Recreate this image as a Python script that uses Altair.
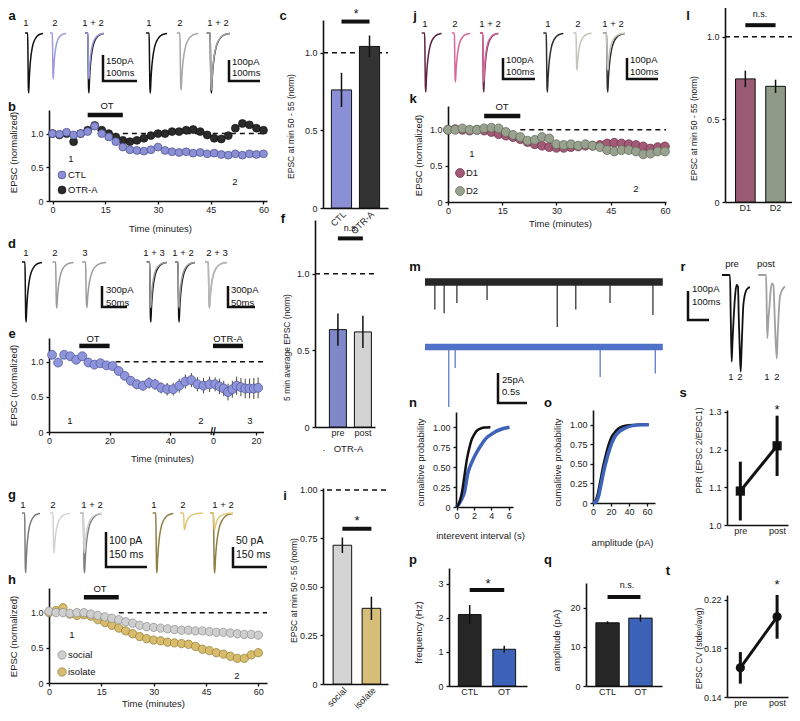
import altair as alt
import pandas as pd

FONT = "Liberation Sans"
W, H, M = 784, 705, 8

# ------------------------------------------------------------------ data
TIME_2MIN = [0, 2, 4, 6, 8, 10, 12, 14, 16, 18, 20, 22, 24, 26, 28, 30,
             32, 34, 36, 38, 40, 42, 44, 46, 48, 50, 52, 54, 56, 58, 60]
B_CTL = [1.0, 0.99, 1.02, 0.98, 1.0, 1.03, 1.11, 1.0, 0.95, 0.88, 0.8, 0.76, 0.75, 0.74, 0.76, 0.8,
         0.75, 0.73, 0.72, 0.73, 0.71, 0.72, 0.7, 0.71, 0.69, 0.68, 0.7, 0.68, 0.7, 0.69, 0.7]
B_OTRA = [1.0, 0.98, 1.0, 0.88, 1.0, 1.05, 1.12, 1.05, 1.0, 0.95, 0.9, 0.88, 0.9, 0.93, 0.97, 1.0,
          1.0, 1.03, 1.03, 1.05, 1.06, 1.03, 0.98, 0.93, 0.92, 0.97, 1.08, 1.15, 1.13, 1.08, 1.05]

E_T1 = [1, 3, 5, 7, 9, 11, 13, 15, 17, 19, 21, 23, 25, 27, 29, 31, 33, 35, 37, 39, 41, 43, 45, 47, 49, 51, 53]
E_V1 = [1.1, 0.99, 1.1, 1.08, 1.03, 1.08, 0.99, 0.96, 0.98, 0.95, 0.94, 0.87, 0.8, 0.73, 0.68, 0.66,
        0.7, 0.68, 0.63, 0.61, 0.61, 0.66, 0.72, 0.74, 0.68, 0.66, 0.68]
E_ERR1 = [0.03, 0.03, 0.03, 0.03, 0.04, 0.04, 0.04, 0.05, 0.05, 0.05, 0.05, 0.06, 0.06, 0.06, 0.07, 0.07,
          0.08, 0.08, 0.08, 0.09, 0.09, 0.1, 0.1, 0.1, 0.1, 0.11, 0.11]
E_T2 = [1, 3, 5, 7, 9, 11, 13, 15, 17, 19, 21]
E_V2 = [0.68, 0.65, 0.62, 0.57, 0.61, 0.66, 0.64, 0.62, 0.62, 0.62, 0.63]
E_ERR2 = [0.1, 0.11, 0.11, 0.12, 0.12, 0.13, 0.13, 0.14, 0.14, 0.15, 0.15]

H_SOCIAL = [1.02, 1.0, 1.0, 0.99, 1.0, 1.0, 0.98, 0.96, 0.94, 0.92, 0.9, 0.87, 0.85, 0.82, 0.8, 0.79,
            0.78, 0.77, 0.76, 0.75, 0.75, 0.74, 0.74, 0.73, 0.72, 0.72, 0.71, 0.7, 0.69, 0.69, 0.68]
H_ISOLATE = [1.0, 1.03, 1.07, 0.98, 0.96, 0.97, 0.95, 0.9, 0.86, 0.82, 0.78, 0.74, 0.7, 0.66, 0.63, 0.61,
             0.6, 0.58, 0.57, 0.56, 0.55, 0.52, 0.48, 0.46, 0.43, 0.41, 0.38, 0.35, 0.35, 0.4, 0.43]

K_D1 = [1.0, 1.01, 1.0, 0.99, 1.0, 0.99, 0.97, 0.94, 0.92, 0.9, 0.87, 0.83, 0.8, 0.78, 0.76, 0.75,
        0.75, 0.76, 0.77, 0.78, 0.78, 0.79, 0.81, 0.82, 0.81, 0.8, 0.79, 0.77, 0.74, 0.76, 0.77]
K_D2 = [1.0, 1.0, 1.02, 1.0, 1.0, 1.02, 1.03, 1.02, 0.97, 0.93, 0.9, 0.85, 0.86, 0.9, 0.88, 0.8,
        0.79, 0.8, 0.78, 0.8, 0.78, 0.76, 0.72, 0.7, 0.72, 0.72, 0.7, 0.66, 0.67, 0.7, 0.7]

C_GROUPS = ["CTL", "OTR-A"]
C_MEAN = [0.76, 1.04]
C_ERR = [0.11, 0.07]
F_GROUPS = ["pre", "post"]
F_MEAN = [0.635, 0.62]
F_ERR = [0.105, 0.105]
I_GROUPS = ["social", "isolate"]
I_MEAN = [0.715, 0.39]
I_ERR = [0.04, 0.06]
L_GROUPS = ["D1", "D2"]
L_MEAN = [0.745, 0.70]
L_ERR = [0.05, 0.04]
P_GROUPS = ["CTL", "OT"]
P_MEAN = [2.1, 1.08]
P_ERR = [0.28, 0.1]
Q_GROUPS = ["CTL", "OT"]
Q_MEAN = [16.2, 17.4]
Q_ERR = [0.4, 0.9]
S_GROUPS = ["pre", "post"]
S_MEAN = [1.09, 1.21]
S_ERR = [0.078, 0.08]
T_GROUPS = ["pre", "post"]
T_MEAN = [0.164, 0.206]
T_ERR = [0.013, 0.018]

N_CTL_X = [0, 0.3, 0.6, 0.9, 1.2, 1.5, 1.7, 2.0, 2.3, 2.7, 3.2, 3.9]
N_CTL_Y = [0, 0.05, 0.17, 0.38, 0.6, 0.75, 0.83, 0.9, 0.95, 0.98, 0.995, 1.0]
N_OT_X = [0, 0.3, 0.6, 0.9, 1.3, 1.8, 2.3, 2.8, 3.4, 4.0, 4.6, 5.3, 6.1]
N_OT_Y = [0, 0.04, 0.1, 0.18, 0.42, 0.57, 0.68, 0.77, 0.86, 0.91, 0.95, 0.98, 1.0]
O_CTL_X = [0, 3, 5, 8, 11, 14, 17, 20, 24, 28, 33, 40, 50, 62]
O_CTL_Y = [0, 0.03, 0.1, 0.27, 0.45, 0.6, 0.73, 0.83, 0.9, 0.95, 0.98, 0.995, 1.0, 1.0]
O_OT_X = [0, 4, 6, 9, 12, 15, 18, 21, 25, 30, 36, 44, 55, 62]
O_OT_Y = [0, 0.02, 0.08, 0.24, 0.41, 0.55, 0.67, 0.77, 0.86, 0.92, 0.96, 0.99, 1.0, 1.0]

# EPSC waveform (time in ms, current normalised to the peak)
EPSC_T = [0, 10, 11, 12.5, 14, 16, 19, 23, 28, 34, 41, 49, 58, 68]
EPSC_V = [0, 0, -0.3, -0.9, -1.0, -0.78, -0.55, -0.37, -0.23, -0.14, -0.08, -0.04, -0.02, -0.01]
# peak amplitudes (pA) read against each scale bar
AMP_A_CTL = [346, 265]
AMP_A_OTRA = [286, 271]
AMP_D = [857, 657, 650]
AMP_G_SOC = [171, 114]
AMP_G_ISO = [150, 42]
AMP_J_D1 = [281, 233]
AMP_J_D2 = [281, 176]

# paired-pulse traces (ms, pA)
PP_PRE_T = [0, 38, 42, 46, 50, 55, 60, 64, 70, 76, 80, 85, 89, 93, 97, 101, 107, 114, 123, 133]
PP_PRE_V = [0, 0, -160, -299, -230, -155, -95, -59, -34, -40, -150, -270, -333, -260, -180, -110, -75, -55, -46, -42]
PP_POST_T = [0, 37, 40, 43, 47, 53, 58, 64, 72, 77, 82, 88, 92, 96, 103, 115, 127]
PP_POST_V = [0, 0, -110, -218, -165, -110, -60, -29, -35, -120, -220, -288, -210, -150, -75, -50, -40]

# spontaneous EPSC recordings (s, pA)
M_DUR = 4.1
M_CTL_T = [0.17, 0.33, 0.55, 1.07, 2.28, 2.6, 3.19, 3.93]
M_CTL_A = [23, 26, 17.5, 15, 37.5, 23, 17.5, 27.5]
M_OT_T = [0.41, 0.52, 3.02, 3.97]
M_OT_A = [50, 17.5, 25, 22]

# ------------------------------------------------------------------ helpers
def sx(domain, X0, X1):
    return alt.Scale(domain=list(domain), range=[X0 - M, X1 - M], nice=False, zero=False)


def sy(domain, Yb, Yt):
    return alt.Scale(domain=list(domain), range=[Yb - M, Yt - M], nice=False, zero=False)


def sband(cats, X0, X1, pi, po, al):
    return alt.Scale(type="band", domain=list(cats), range=[X0 - M, X1 - M],
                     paddingInner=pi, paddingOuter=po, align=al)


def spoint(cats, X0, X1, pad, al):
    return alt.Scale(type="point", domain=list(cats), range=[X0 - M, X1 - M], padding=pad, align=al)


BASE_AX = dict(domainColor="#111", domainWidth=1.6, tickColor="#111", tickWidth=1.3, tickSize=3,
               labelFont=FONT, labelFontSize=9, labelColor="#222", labelPadding=3,
               labelFlush=False, labelOverlap=False, grid=False,
               titleFont=FONT, titleFontSize=9.5, titleFontWeight="normal", titleColor="#222")
EXPR1 = "datum.value == 0 ? '0' : format(datum.value, '.1f')"
EXPR2 = "datum.value == 0 ? '0' : format(datum.value, '.2f')"


def yax(X0, values, expr=None, title=None, tx=0, ty=0, size=9.5):
    d = dict(BASE_AX, orient="left", offset=-(X0 - M), values=list(values))
    if expr:
        d["labelExpr"] = expr
    if title:
        d.update(title=title, titleX=tx - X0, titleY=ty - M, titleAngle=-90,
                 titleAlign="center", titleBaseline="middle", titleFontSize=size)
    else:
        d["title"] = None
    return alt.Axis(**d)


def xax(Yb, values=None, expr=None, title=None, tx=0, ty=0, ticks=True, angle=0):
    d = dict(BASE_AX, orient="bottom", offset=(Yb - M) - H, ticks=ticks, labelAngle=angle,
             labelPadding=1.5)
    if values is not None:
        d["values"] = list(values)
    if expr:
        d["labelExpr"] = expr
    if title:
        d.update(title=title, titleX=tx - M, titleY=ty - Yb, titleAlign="center",
                 titleBaseline="middle", titleAngle=0)
    else:
        d["title"] = None
    return alt.Axis(**d)


layers = []
add = layers.append


def circles(ts, vs, xs, ys, fill, stroke, size, xa=None, ya=None):
    df = pd.DataFrame({"t": ts, "v": vs})
    return alt.Chart(df).mark_circle(size=size, fill=fill, stroke=stroke, strokeWidth=0.7,
                                     opacity=1, fillOpacity=1).encode(
        x=alt.X("t:Q", scale=xs, axis=xa), y=alt.Y("v:Q", scale=ys, axis=ya))


def hseg(x0, x1, yv, xs, ys, width=1.5, dash=None):
    df = pd.DataFrame({"a": [x0], "b": [x1], "y": [yv]})
    kw = dict(color="#111", strokeWidth=width)
    if dash:
        kw["strokeDash"] = dash
    return alt.Chart(df).mark_rule(**kw).encode(
        x=alt.X("a:Q", scale=xs, axis=None), x2="b", y=alt.Y("y:Q", scale=ys, axis=None))


def dashed(yv, ys, X0, X1):
    return hseg(0, 1, yv, sx([0, 1], X0, X1), ys, 1.5, [5, 4])


def bars(groups, means, errs, colors, xs, ys, xa, ya):
    df = pd.DataFrame({"g": groups, "m": means,
                       "lo": [m - e for m, e in zip(means, errs)],
                       "hi": [m + e for m, e in zip(means, errs)],
                       "c": colors})
    b = alt.Chart(df).mark_bar(stroke="#111", strokeWidth=1).encode(
        x=alt.X("g:N", scale=xs, axis=xa), y=alt.Y("m:Q", scale=ys, axis=ya),
        color=alt.Color("c:N", scale=None))
    e = alt.Chart(df).mark_rule(color="#111", strokeWidth=1.5).encode(
        x=alt.X("g:N", scale=xs, axis=None), y=alt.Y("lo:Q", scale=ys, axis=None), y2="hi")
    return [b, e]


def sigbar(a, b, yv, xs, ys):
    df = pd.DataFrame({"a": [a], "b": [b], "y": [yv]})
    return alt.Chart(df).mark_rule(color="#111", strokeWidth=4).encode(
        x=alt.X("a:N", scale=xs, axis=None), x2="b", y=alt.Y("y:Q", scale=ys, axis=None))


def texts(rows, size=9.5, bold=False, align="center", color="#111", baseline="middle"):
    df = pd.DataFrame(rows, columns=["s", "X", "Y"])
    df["x"] = df["X"] - M
    df["y"] = df["Y"] - M
    return alt.Chart(df).mark_text(fontSize=size, fontWeight="bold" if bold else "normal",
                                   align=align, baseline=baseline, color=color, font=FONT).encode(
        x=alt.X("x:Q", scale=None, axis=None), y=alt.Y("y:Q", scale=None, axis=None), text="s:N")


def dot(X, Y, fill, stroke, size):
    return alt.Chart(pd.DataFrame({"k": [0]})).mark_circle(
        size=size, fill=fill, stroke=stroke, strokeWidth=0.7, opacity=1, fillOpacity=1).encode(
        x=alt.value(X - M), y=alt.value(Y - M))


def trace(amp, color, X0, w, Yb, pxpa, sw=1.5):
    df = pd.DataFrame({"t": EPSC_T, "i": [v * amp for v in EPSC_V]})
    xs = sx([EPSC_T[0], EPSC_T[-1]], X0, X0 + w)
    ys = sy([-1000, 0], Yb + 1000 * pxpa, Yb)
    return alt.Chart(df).mark_line(color=color, strokeWidth=sw, interpolate="monotone").encode(
        x=alt.X("t:Q", scale=xs, axis=None), y=alt.Y("i:Q", scale=ys, axis=None))


def curve(ts, vs, X0, w, Yb, pxpa, color, sw=1.5):
    df = pd.DataFrame({"t": ts, "i": vs})
    xs = sx([ts[0], ts[-1]], X0, X0 + w)
    ys = sy([-1000, 0], Yb + 1000 * pxpa, Yb)
    return alt.Chart(df).mark_line(color=color, strokeWidth=sw, interpolate="monotone").encode(
        x=alt.X("t:Q", scale=xs, axis=None), y=alt.Y("i:Q", scale=ys, axis=None))


def scalebar(Xc, Yc, amp_val, amp_px, t_val, t_px, sw=2.5):
    df = pd.DataFrame({"t": [0, 0, t_val], "v": [amp_val, 0, 0], "k": [0, 1, 2]})
    xs = sx([0, t_val], Xc, Xc + t_px)
    ys = sy([0, amp_val], Yc, Yc - amp_px)
    return alt.Chart(df).mark_line(color="#111", strokeWidth=sw, strokeJoin="miter").encode(
        x=alt.X("t:Q", scale=xs, axis=None), y=alt.Y("v:Q", scale=ys, axis=None), order="k:Q")


def cum_line(xv, yv, xs, ys, color, sw, xa=None, ya=None):
    df = pd.DataFrame({"x": xv, "y": yv})
    return alt.Chart(df).mark_line(color=color, strokeWidth=sw, interpolate="monotone").encode(
        x=alt.X("x:Q", scale=xs, axis=xa), y=alt.Y("y:Q", scale=ys, axis=ya))


# colours
BLUE_F, BLUE_S = "#8a8fd6", "#4b4f86"
DARK_F, DARK_S = "#2b2b2b", "#111111"
SOC_F, SOC_S = "#cfcfcf", "#8c8c8c"
ISO_F, ISO_S = "#d8bc6c", "#8e7a3a"
D1_F, D1_S = "#a35a76", "#6a3048"
D2_F, D2_S = "#99a18f", "#5f6658"
OT_BLUE = "#3d63b8"

# ------------------------------------------------------------------ panel b
xb, yb = sx([-1, 61], 49, 267), sy([0, 1.35], 201, 110)
add(hseg(20, 61, 1.0, xb, yb, 1.5, [5, 4]))
add(hseg(10, 20, 1.276, xb, yb, 4.5))
add(circles(TIME_2MIN, B_OTRA, xb, yb, DARK_F, DARK_S, 62,
            xa=xax(201, [0, 15, 30, 45, 60], title="Time (minutes)", tx=160, ty=228),
            ya=yax(49, [0, 0.5, 1.0], EXPR1, "EPSC (normalized)", 13, 152)))
add(circles(TIME_2MIN, B_CTL, xb, yb, BLUE_F, BLUE_S, 62))
add(dot(62, 175, BLUE_F, BLUE_S, 62))
add(dot(62, 190, DARK_F, DARK_S, 62))

# ------------------------------------------------------------------ panel e
xe1, xe2 = sx([0, 54], 49, 212.6), sx([0, 23.5], 213, 263.5)
ye = sy([0, 1.34], 432, 338)
add(hseg(22, 54, 1.0, xe1, ye, 1.5, [5, 4]))
add(hseg(0, 23.5, 1.0, xe2, ye, 1.5, [5, 4]))
add(hseg(10, 20, 1.227, xe1, ye, 4.5))
add(hseg(0, 14, 1.227, xe2, ye, 4.5))
for ts, vs, es, xs, first in [(E_T1, E_V1, E_ERR1, xe1, True), (E_T2, E_V2, E_ERR2, xe2, False)]:
    dfe = pd.DataFrame({"t": ts, "lo": [v - e for v, e in zip(vs, es)], "hi": [v + e for v, e in zip(vs, es)]})
    add(alt.Chart(dfe).mark_rule(color="#4a4a3a", strokeWidth=1).encode(
        x=alt.X("t:Q", scale=xs, axis=None), y=alt.Y("lo:Q", scale=ye, axis=None), y2="hi"))
    if first:
        add(circles(ts, vs, xs, ye, "#8e94db", "#4e5290", 80,
                    xa=xax(432, [0, 20, 40], title="Time (minutes)", tx=162, ty=458),
                    ya=yax(49, [0, 0.5, 1.0], EXPR1, "EPSC (normalized)", 13, 385)))
    else:
        add(circles(ts, vs, xs, ye, "#8e94db", "#4e5290", 80, xa=xax(432, [0, 20])))

# ------------------------------------------------------------------ panel h
xh, yh = sx([0, 62.5], 49, 267), sy([0, 1.35], 683, 588)
add(hseg(20, 62.5, 1.0, xh, yh, 1.5, [5, 4]))
add(hseg(10, 20, 1.22, xh, yh, 4.5))
add(circles(TIME_2MIN, H_ISOLATE, xh, yh, ISO_F, ISO_S, 70,
            xa=xax(683, [0, 15, 30, 45, 60], title="Time (minutes)", tx=153, ty=703),
            ya=yax(49, [0, 0.5, 1.0], EXPR1, "EPSC (normalized)", 13, 636)))
add(circles(TIME_2MIN, H_SOCIAL, xh, yh, SOC_F, SOC_S, 70))
add(dot(62, 655, SOC_F, SOC_S, 70))
add(dot(62, 672, ISO_F, ISO_S, 70))

# ------------------------------------------------------------------ panel k
xk, yk = sx([0, 60.3], 448, 666), sy([0, 1.33], 202, 106)
add(hseg(20, 60.3, 1.0, xk, yk, 1.5, [5, 4]))
add(hseg(10, 20, 1.19, xk, yk, 4.5))
add(circles(TIME_2MIN, K_D1, xk, yk, D1_F, D1_S, 80,
            xa=xax(202, [0, 15, 30, 45, 60], title="Time (minutes)", tx=560, ty=223),
            ya=yax(448, [0, 0.5, 1.0], EXPR1, "EPSC (normalized)", 418, 155)))
add(circles(TIME_2MIN, K_D2, xk, yk, D2_F, D2_S, 80))
add(dot(460, 173, D1_F, D1_S, 80))
add(dot(460, 191, D2_F, D2_S, 80))

# ------------------------------------------------------------------ bar panels
xc, yc = sband(C_GROUPS, 323, 388, 0.28, 0.3, 0.5), sy([0, 1.21], 208, 20)
add(dashed(1.0, yc, 323, 388))
for lyr in bars(C_GROUPS, C_MEAN, C_ERR, [BLUE_F, "#333333"], xc, yc,
                xax(208, ticks=False, angle=-45),
                yax(323, [0, 0.5, 1.0], EXPR1, "EPSC at min 50 - 55 (norm)", 290, 126, 8.5)):
    add(lyr)
add(sigbar("CTL", "OTR-A", 1.2, xc, yc))

xf, yf = sband(F_GROUPS, 315, 375, 0.32, 0.36, 0.8), sy([0, 1.35], 427, 220)
add(dashed(1.0, yf, 315, 375))
for lyr in bars(F_GROUPS, F_MEAN, F_ERR, ["#7f88c9", "#d3d3d3"], xf, yf,
                xax(427, ticks=False, title="OTR-A", tx=348, ty=448),
                yax(315, [0, 0.5, 1.0], EXPR1, "5 min average EPSC (norm)", 286, 347, 8.5)):
    add(lyr)
add(sigbar("pre", "post", 1.23, xf, yf))

xi, yi = sband(I_GROUPS, 323, 388, 0.36, 0.3, 0.58), sy([0, 1.01], 684, 488)
add(dashed(1.0, yi, 327, 388))
for lyr in bars(I_GROUPS, I_MEAN, I_ERR, ["#d4d4d4", "#d6bd78"], xi, yi,
                xax(684, ticks=False, angle=-45),
                yax(323, [0, 0.25, 0.5, 0.75, 1.0], EXPR2, "EPSC at min 50 - 55 (norm)", 293, 590, 8.5)):
    add(lyr)
add(sigbar("social", "isolate", 0.80, xi, yi))

xl, yl = sband(L_GROUPS, 725, 793, 0.35, 0.3, 0.58), sy([0, 1.18], 202, 7)
add(dashed(1.0, yl, 725, 795))
for lyr in bars(L_GROUPS, L_MEAN, L_ERR, ["#9b5b72", "#8e9a86"], xl, yl,
                xax(202, ticks=False),
                yax(725, [0, 0.5, 1.0], EXPR1, "EPSC at min 50 - 55 (norm)", 693, 128, 8.5)):
    add(lyr)
add(sigbar("D1", "D2", 1.07, xl, yl))

xp, yp = sband(P_GROUPS, 449, 527, 0.34, 0.3, 0.45), sy([0, 3.47], 686, 568)
for lyr in bars(P_GROUPS, P_MEAN, P_ERR, ["#262626", OT_BLUE], xp, yp,
                xax(686, ticks=False),
                yax(449, [0, 1, 2, 3], None, "frequency (Hz)", 418, 632)):
    add(lyr)
add(sigbar("CTL", "OT", 2.82, xp, yp))

xq, yq = sband(Q_GROUPS, 586, 662, 0.29, 0.3, 0.5), sy([0, 26.4], 686, 583)
for lyr in bars(Q_GROUPS, Q_MEAN, Q_ERR, ["#262626", OT_BLUE], xq, yq,
                xax(686, ticks=False),
                yax(586, [0, 10, 20], None, "amplitude (pA)", 556, 640)):
    add(lyr)
add(sigbar("CTL", "OT", 22.8, xq, yq))

# ------------------------------------------------------------------ panels s, t
for groups, means, errs, Yb, Yt, dom, vals, expr, title, ty, shape in [
        (S_GROUPS, S_MEAN, S_ERR, 525, 410, [1.0, 1.305], [1.0, 1.1, 1.2, 1.3],
         "format(datum.value, '.1f')", "PPR (EPSC 2/EPSC1)", 450, "square"),
        (T_GROUPS, T_MEAN, T_ERR, 697, 595, [0.14, 0.224], [0.14, 0.18, 0.22],
         "format(datum.value, '.2f')", "EPSC CV (stdev/avg)", 648, "circle")]:
    xs = spoint(groups, 727, 788, 0.33, 0.55)
    ys = sy(dom, Yb, Yt)
    dfs = pd.DataFrame({"g": groups, "m": means,
                        "lo": [m - e for m, e in zip(means, errs)],
                        "hi": [m + e for m, e in zip(means, errs)]})
    add(alt.Chart(dfs).mark_line(color="#111", strokeWidth=3).encode(
        x=alt.X("g:N", scale=xs, axis=xax(Yb, ticks=False)),
        y=alt.Y("m:Q", scale=ys, axis=yax(727, vals, expr, title, 698, ty, 8.5))))
    add(alt.Chart(dfs).mark_rule(color="#111", strokeWidth=3).encode(
        x=alt.X("g:N", scale=xs, axis=None), y=alt.Y("lo:Q", scale=ys, axis=None), y2="hi"))
    add(alt.Chart(dfs).mark_point(shape=shape, size=85, filled=True, color="#111", opacity=1).encode(
        x=alt.X("g:N", scale=xs, axis=None), y=alt.Y("m:Q", scale=ys, axis=None)))

# ------------------------------------------------------------------ panels n, o
xn, yn = sx([0, 6.5], 456.5, 513), sy([0, 1.19], 507, 412)
add(cum_line(N_OT_X, N_OT_Y, xn, yn, OT_BLUE, 3.5,
             xa=xax(507, [0, 2, 4, 6], title="interevent interval (s)", tx=480, ty=535),
             ya=yax(456, [0, 0.25, 0.5, 0.75, 1.0], EXPR2, "cumalitive probability", 420, 462)))
add(cum_line(N_CTL_X, N_CTL_Y, xn, yn, "#111", 2.5))
xo, yo = sx([0, 69], 593, 655), sy([0, 1.19], 503, 410)
add(cum_line(O_CTL_X, O_CTL_Y, xo, yo, "#111", 2.5,
             xa=xax(503, [0, 20, 40, 60], title="amplitude (pA)", tx=622, ty=542),
             ya=yax(593, [0, 0.25, 0.5, 0.75, 1.0], EXPR2, "cumalitive probability", 557, 462)))
add(cum_line(O_OT_X, O_OT_Y, xo, yo, OT_BLUE, 3.5))

# ------------------------------------------------------------------ panel m
xm = sx([0, M_DUR], 425, 425 + M_DUR * 58)
for Yb, half, ts, amps, col in [(282, 3.2, M_CTL_T, M_CTL_A, "#262626"),
                                (347, 2.8, M_OT_T, M_OT_A, "#4f72c8")]:
    ym = sy([-60, 10], Yb + 60 * 1.2, Yb - 10 * 1.2)
    add(alt.Chart(pd.DataFrame({"a": [0], "b": [M_DUR], "lo": [-half], "hi": [half]})).mark_rect(
        color=col).encode(x=alt.X("a:Q", scale=xm, axis=None), x2="b",
                          y=alt.Y("lo:Q", scale=ym, axis=None), y2="hi"))
    add(alt.Chart(pd.DataFrame({"t": ts, "lo": [-a for a in amps], "z": [0] * len(ts)})).mark_rule(
        color=col, strokeWidth=1.2).encode(x=alt.X("t:Q", scale=xm, axis=None),
                                           y=alt.Y("lo:Q", scale=ym, axis=None), y2="z"))
add(scalebar(498, 403, 25, 30, 0.5, 29))

# ------------------------------------------------------------------ panel r
add(curve(PP_PRE_T, PP_PRE_V, 722, 133 * 0.21, 275, 0.29, "#111", 1.8))
add(curve(PP_POST_T, PP_POST_V, 758.3, 127 * 0.21, 275, 0.29, "#a0a0a0", 1.8))
add(scalebar(688, 320, 100, 29, 100, 21))

# ------------------------------------------------------------------ EPSC traces a, d, g, j
BLK, GRY = "#111111", "#9b9b9b"
# a
add(trace(AMP_A_CTL[0], BLK, 25, 18, 33, 26 / 150))
add(trace(AMP_A_CTL[1], "#9d9ade", 50, 16, 33, 26 / 150))
add(trace(AMP_A_CTL[0], BLK, 85, 19, 33, 26 / 150))
add(trace(AMP_A_CTL[1], "#9d9ade", 85, 19, 33, 26 / 150))
add(scalebar(103, 81, 150, 26, 100, 34))
add(trace(AMP_A_OTRA[0], BLK, 146, 21, 33, 0.21))
add(trace(AMP_A_OTRA[1], "#a6a6a6", 176.7, 21.7, 33, 0.21))
add(trace(AMP_A_OTRA[0], BLK, 206.7, 23, 33, 0.21))
add(trace(AMP_A_OTRA[1], "#a6a6a6", 206.7, 23, 33, 0.21))
add(scalebar(229, 81, 100, 21, 100, 31))
# d
add(trace(AMP_D[0], BLK, 22, 20, 262, 0.07))
add(trace(AMP_D[1], GRY, 52.5, 21, 262, 0.07))
add(trace(AMP_D[2], GRY, 82, 24, 262, 0.07))
add(trace(AMP_D[0], BLK, 146.7, 20, 262, 0.07))
add(trace(AMP_D[2], GRY, 146.7, 20, 262, 0.07))
add(trace(AMP_D[0], BLK, 175, 20, 262, 0.07))
add(trace(AMP_D[1], GRY, 175, 20, 262, 0.07))
add(trace(AMP_D[1], GRY, 205, 22, 262, 0.07))
add(trace(AMP_D[2], "#b8b8b8", 205, 22, 262, 0.07))
add(scalebar(102, 307, 300, 21, 50, 25))
add(scalebar(228, 307, 300, 21, 50, 27))
# g
add(trace(AMP_G_SOC[0], "#7d7d7d", 22, 18, 513, 0.35))
add(trace(AMP_G_SOC[1], "#d2d2d2", 50, 20, 513, 0.35))
add(trace(AMP_G_SOC[0], "#7d7d7d", 80, 22, 513, 0.35))
add(trace(AMP_G_SOC[1], "#d2d2d2", 80, 22, 513, 0.35))
add(scalebar(106, 567, 100, 35, 150, 41))
add(trace(AMP_G_ISO[0], "#8f7f45", 152.7, 20.7, 513, 0.4))
add(trace(AMP_G_ISO[1], "#e2c979", 180, 23, 513, 0.4))
add(trace(AMP_G_ISO[0], "#8f7f45", 210, 23, 513, 0.4))
add(trace(AMP_G_ISO[1], "#e2c979", 210, 23, 513, 0.4))
add(scalebar(233, 567, 50, 20, 150, 34))
# j
add(trace(AMP_J_D1[0], "#5e2440", 421.7, 20, 33, 0.21))
add(trace(AMP_J_D1[1], "#d9679c", 451.7, 18.3, 33, 0.21))
add(trace(AMP_J_D1[0], "#5e2440", 480, 18.3, 33, 0.21))
add(trace(AMP_J_D1[1], "#d9679c", 480, 18.3, 33, 0.21))
add(scalebar(503, 79, 100, 21, 100, 32))
add(trace(AMP_J_D2[0], "#2e2e2e", 543.3, 20, 33, 0.21))
add(trace(AMP_J_D2[1], "#c3c6bb", 573.3, 18.3, 33, 0.21))
add(trace(AMP_J_D2[0], "#2e2e2e", 603.3, 21.7, 33, 0.21))
add(trace(AMP_J_D2[1], "#c3c6bb", 603.3, 21.7, 33, 0.21))
add(scalebar(627, 79, 100, 21, 100, 31))

# ------------------------------------------------------------------ text
add(texts([("a", 12, 20), ("b", 12, 111), ("c", 283, 20), ("d", 12, 248), ("e", 12, 338),
           ("f", 283, 223), ("g", 12, 499), ("h", 12, 584), ("i", 285, 500), ("j", 415, 20),
           ("k", 413, 103), ("l", 688, 20), ("m", 415, 271), ("n", 413, 407), ("o", 548, 407),
           ("p", 413, 564), ("q", 548, 564), ("r", 683, 271), ("s", 683, 397), ("t", 668, 575)],
          size=13, bold=True, baseline="alphabetic"))
add(texts([("1", 26, 23), ("2", 55, 23), ("1 + 2", 93, 23), ("1", 149, 23), ("2", 180, 23), ("1 + 2", 218, 23),
           ("1", 26, 253), ("2", 55, 253), ("3", 85, 253), ("1 + 3", 154, 253), ("1 + 2", 183, 253),
           ("2 + 3", 217, 253),
           ("1", 23, 505), ("2", 53, 505), ("1 + 2", 92, 505), ("1", 154, 505), ("2", 183, 505),
           ("1 + 2", 223, 505),
           ("1", 425, 24), ("2", 455, 24), ("1 + 2", 490, 24), ("1", 548, 24), ("2", 578, 24),
           ("1 + 2", 613, 24),
           ("1", 71, 159), ("2", 235, 182), ("1", 70, 421), ("2", 201, 421), ("3", 250, 421),
           ("1", 72, 635), ("2", 237, 676), ("1", 472, 154), ("2", 636, 189),
           ("OT", 107, 106), ("OT", 93, 339), ("OTR-A", 228, 339), ("OT", 100, 589), ("OT", 502, 107),
           ("pre", 732, 264), ("post", 766, 264), ("1", 731, 377), ("2", 740, 377),
           ("1", 767, 377), ("2", 777, 377)], size=9.5))
add(texts([("150pA", 106, 61), ("100ms", 106, 73), ("100pA", 232, 62), ("100ms", 232, 73),
           ("300pA", 106, 290), ("50ms", 106, 303), ("300pA", 231, 290), ("50ms", 231, 303),
           ("100pA", 506, 60), ("100ms", 506, 72), ("100pA", 630, 60), ("100ms", 630, 72),
           ("25pA", 502, 380), ("0.5s", 502, 392), ("100pA", 692, 289), ("100ms", 692, 302),
           ("CTL", 68, 175), ("OTR-A", 68, 190), ("social", 68, 655), ("isolate", 68, 672),
           ("D1", 466, 173), ("D2", 466, 191)], size=9.5, align="left"))
add(texts([("100 pA", 109, 541), ("150 ms", 109, 555), ("50 pA", 236, 541), ("150 ms", 236, 555)],
          size=10.5, align="left"))
add(texts([("*", 356, 8.5)], size=12, baseline="top"))
add(texts([("*", 357, 521), ("*", 488, 584), ("*", 777, 410), ("*", 777, 585)], size=13))
add(texts([("n.s.", 351, 228), ("n.s.", 760, 14), ("n.s.", 627, 585), (".", 324, 448)], size=9))
add(texts([("//", 213, 432)], size=10, bold=True))

chart = (alt.layer(*layers)
         .resolve_scale(x="independent", y="independent")
         .resolve_axis(x="independent", y="independent")
         .properties(width=W, height=H, padding=0, autosize=alt.AutoSizeParams(type="none"))
         .configure(font=FONT)
         .configure_view(strokeWidth=0))

chart.save("out.html", embed_options={"renderer": "svg", "actions": False})
